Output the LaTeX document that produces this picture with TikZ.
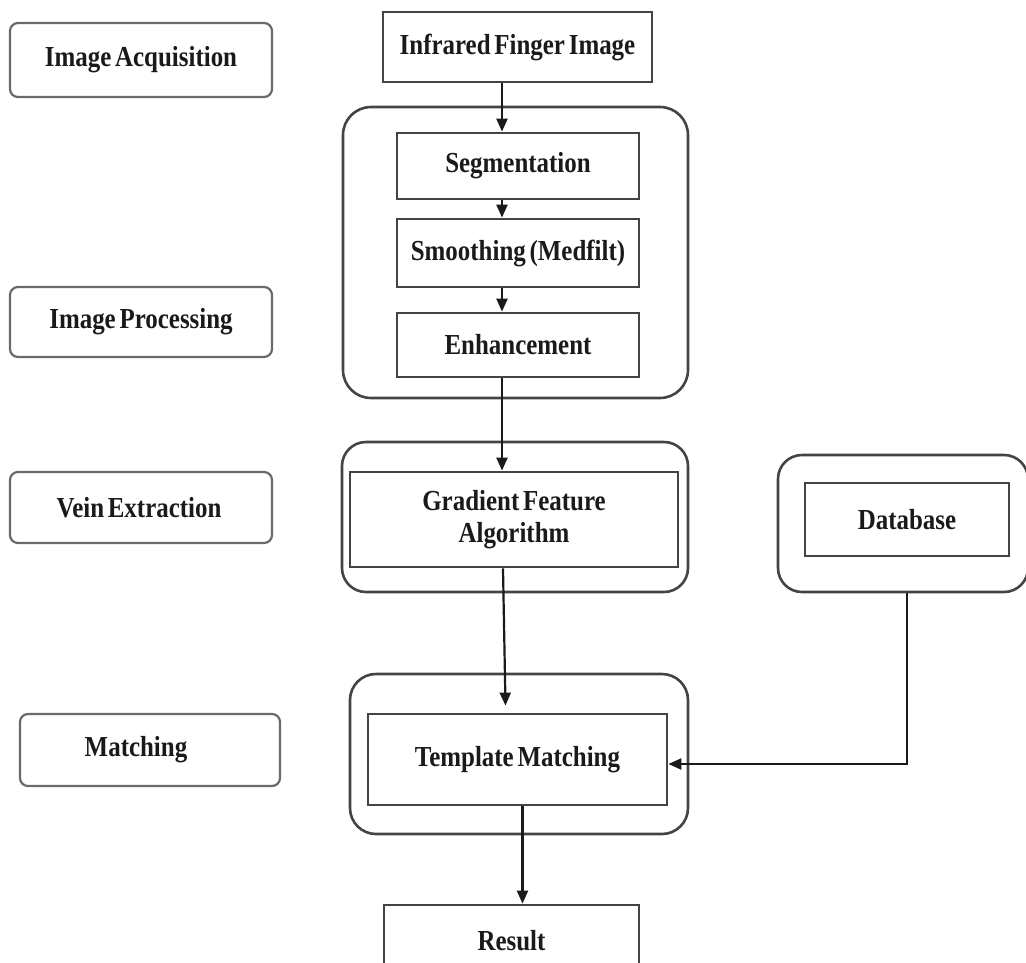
\documentclass[tikz,border=0pt]{standalone}
\usepackage{fontspec}
\setmainfont{Liberation Serif}[FakeStretch=0.86,WordSpace=0.6]
\usetikzlibrary{arrows.meta}
\definecolor{edge}{HTML}{444444}
\definecolor{lbledge}{HTML}{6A6A6A}
\definecolor{ink}{HTML}{1A1A1A}
\begin{document}
\begin{tikzpicture}[x=1pt,y=-1pt,
  every node/.style={font=\fontsize{29}{32}\selectfont\bfseries, text=ink, inner sep=0pt, align=center},
  lbl/.style={draw=lbledge, line width=2.2pt, rounded corners=8pt, minimum width=262pt, minimum height=71pt},
  stepbox/.style={draw=edge, line width=2.8pt},
  group/.style={draw=edge, line width=2.6pt, rounded corners=28pt},
  arr/.style={draw=ink, line width=2.2pt, -{Triangle[length=13pt,width=11pt]}}]
\useasboundingbox (0,0) rectangle (1026,962);
\clip (0,0) rectangle (1026,962);
% left stage labels
\node[lbl, minimum height=74pt] (la) at (141,60) {\raisebox{3pt}{Image Acquisition}};
\node[lbl, minimum height=70pt] (lp) at (141,322) {Image Processing};
\node[lbl, minimum height=71pt] (lv) at (141,507.5) {\hspace*{-4pt}Vein Extraction};
\node[lbl, minimum width=260pt, minimum height=72pt] (lm) at (150,750) {\hspace*{-28pt}Matching};
% group frames
\node[group, minimum width=345pt, minimum height=291pt] (g1) at (515.5,252.5) {};
\node[group, rounded corners=24pt, minimum width=346pt, minimum height=150pt] (g2) at (515,517) {};
\node[group, rounded corners=24pt, minimum width=250pt, minimum height=137pt] (g3) at (903,523.5) {};
\node[group, rounded corners=26pt, minimum width=338pt, minimum height=160pt] (g4) at (519,754) {};
% process steps
\node[stepbox, minimum width=269pt, minimum height=70pt] (ir) at (517.5,47) {Infrared Finger Image};
\node[stepbox, minimum width=242pt, minimum height=66pt] (seg) at (518,166) {Segmentation};
\node[stepbox, minimum width=242pt, minimum height=68pt] (smo) at (518,253) {Smoothing (Medfilt)};
\node[stepbox, minimum width=242pt, minimum height=64pt] (enh) at (518,345) {Enhancement};
\node[stepbox, minimum width=328pt, minimum height=95pt] (gf) at (514,519.5) {Gradient Feature\\Algorithm};
\node[stepbox, minimum width=204pt, minimum height=73pt] (db) at (907,519.5) {Database};
\node[stepbox, minimum width=299pt, minimum height=91pt] (tm) at (517.5,759.5) {Template Matching};
\node[stepbox, minimum width=255pt, minimum height=84pt] (res) at (511.5,947) {\raisebox{14pt}{Result}};
% connectors
\coordinate (ax) at (502,0);
\draw[arr] (ir.south -| ax) -- (seg.north -| ax);
\draw[arr] (seg.south -| ax) -- (smo.north -| ax);
\draw[arr] (smo.south -| ax) -- (enh.north -| ax);
\draw[arr] (enh.south -| ax) -- (gf.north -| ax);
\draw[arr] ([xshift=-11pt]gf.south) -- ([xshift=-12pt,yshift=7pt]tm.north);
\draw[arr] ([xshift=5pt]tm.south) -- ([xshift=5pt]tm.south |- res.north);
\draw[arr] (db.south |- g3.south) |- ([yshift=-4.5pt]tm.east);
\end{tikzpicture}
\end{document}
